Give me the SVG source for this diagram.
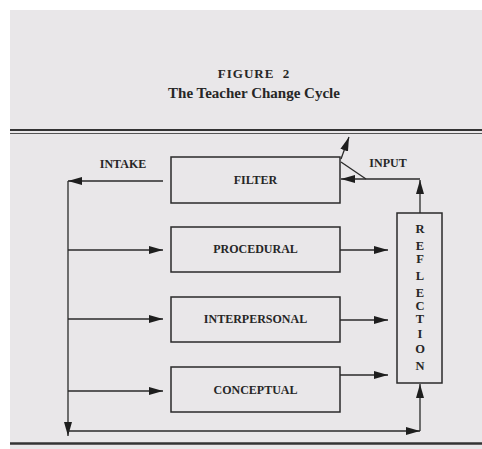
<svg xmlns="http://www.w3.org/2000/svg" width="482" height="449" viewBox="0 0 482 449">
<style>
.bx{fill:none;stroke:#2a2a2a;stroke-width:1.5}
.ln{fill:none;stroke:#2a2a2a;stroke-width:1.3}
.lb{font-family:"Liberation Serif","Times New Roman",serif;font-weight:bold;font-size:12px;fill:#262626;text-anchor:middle}
.rl{font-family:"Liberation Serif","Times New Roman",serif;font-weight:bold;font-size:12.5px;fill:#262626;text-anchor:middle}
</style>
<defs>
<marker id="ah" markerUnits="userSpaceOnUse" markerWidth="15" markerHeight="11" refX="14" refY="5.5" orient="auto">
<path d="M0,1.5 L14,5.5 L0,9.5 Z" fill="#1e1e1e"/>
</marker>
</defs>
<rect x="0" y="0" width="482" height="449" fill="#ffffff"/>
<rect x="10" y="10" width="472" height="439" fill="#e9e7e9"/>
<text x="254" y="78" class="lb" style="font-size:13px;letter-spacing:1px;word-spacing:4px">FIGURE 2</text>
<text x="254" y="98" class="lb" style="font-size:15px">The Teacher Change Cycle</text>
<g id="rules">
<line x1="10" y1="130" x2="482" y2="130" stroke="#333" stroke-width="1.8"/>
<line x1="10" y1="133.5" x2="482" y2="133.5" stroke="#555" stroke-width="1"/>
<line x1="10" y1="443.5" x2="482" y2="443.5" stroke="#333" stroke-width="2.5"/>
</g>
<g id="filter"><rect x="171" y="157" width="169" height="46" class="bx"/><text x="255.5" y="184" class="lb">FILTER</text></g>
<g id="procedural"><rect x="171" y="227" width="169" height="45" class="bx"/><text x="255.5" y="253" class="lb">PROCEDURAL</text></g>
<g id="interpersonal"><rect x="171" y="297" width="169" height="45" class="bx"/><text x="255.5" y="323" class="lb">INTERPERSONAL</text></g>
<g id="conceptual"><rect x="171" y="367" width="169" height="45" class="bx"/><text x="255.5" y="394" class="lb">CONCEPTUAL</text></g>
<g id="reflection"><rect x="397" y="213" width="45" height="170" class="bx"/>
<text class="rl" x="420" y="233">R</text>
<text class="rl" x="420" y="250">E</text>
<text class="rl" x="420" y="263">F</text>
<text class="rl" x="420" y="280">L</text>
<text class="rl" x="420" y="297">E</text>
<text class="rl" x="420" y="310">C</text>
<text class="rl" x="420" y="323">T</text>
<text class="rl" x="420" y="338">I</text>
<text class="rl" x="420" y="353">O</text>
<text class="rl" x="420" y="370">N</text>
</g>
<g id="connectors">
<line x1="163" y1="181" x2="68" y2="181" class="ln" marker-end="url(#ah)"/>
<line x1="68" y1="181" x2="68" y2="436" class="ln" marker-end="url(#ah)"/>
<line x1="68" y1="431" x2="420" y2="431" class="ln" marker-end="url(#ah)"/>
<line x1="420" y1="431" x2="420" y2="384" class="ln" marker-end="url(#ah)"/>
<line x1="420" y1="213" x2="420" y2="180" class="ln" marker-end="url(#ah)"/>
<line x1="420" y1="179" x2="341" y2="179" class="ln" marker-end="url(#ah)"/>
<polyline points="366,179 341,162" class="ln"/>
<line x1="341" y1="159" x2="349" y2="137" class="ln" marker-end="url(#ah)"/>
<line x1="68" y1="250" x2="163" y2="250" class="ln" marker-end="url(#ah)"/>
<line x1="68" y1="319" x2="163" y2="319" class="ln" marker-end="url(#ah)"/>
<line x1="68" y1="391" x2="163" y2="391" class="ln" marker-end="url(#ah)"/>
<line x1="340" y1="250" x2="388" y2="250" class="ln" marker-end="url(#ah)"/>
<line x1="340" y1="320" x2="388" y2="320" class="ln" marker-end="url(#ah)"/>
<line x1="340" y1="375" x2="388" y2="375" class="ln" marker-end="url(#ah)"/>
</g>
<text x="123" y="168" class="lb">INTAKE</text>
<text x="388" y="167" class="lb">INPUT</text>
</svg>
